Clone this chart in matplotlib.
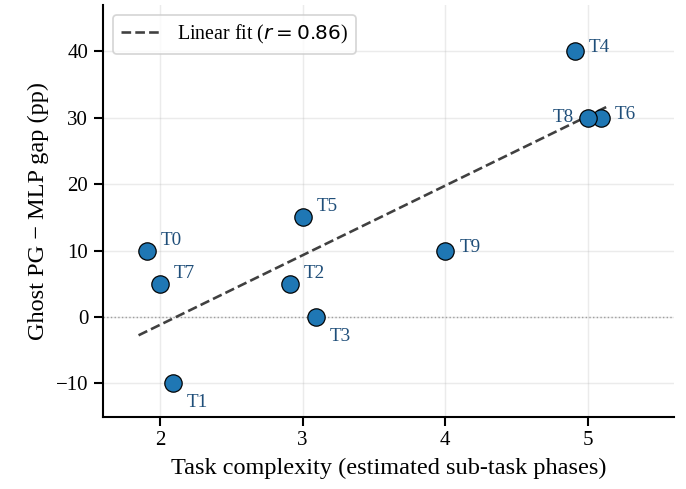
import numpy as np
import matplotlib
matplotlib.use("Agg")
import matplotlib.pyplot as plt

plt.rcParams["font.family"] = ["Liberation Serif", "DejaVu Sans"]
plt.rcParams["mathtext.fontset"] = "dejavusans"

tasks = ["T0", "T1", "T2", "T3", "T4", "T5", "T6", "T7", "T8", "T9"]
complexity = [2, 2, 3, 3, 5, 3, 5, 2, 5, 4]
gap_pp = [10, -10, 5, 0, 40, 15, 30, 5, 30, 10]
jitter = [-0.09, 0.09, -0.09, 0.09, -0.09, 0.0, 0.09, 0.0, 0.0, 0.0]

# label offsets in points (dx, dy) and horizontal alignment
label_offsets = {
    "T0": (8, 6, "left"), "T1": (8, -11, "left"), "T2": (8, 6, "left"),
    "T3": (8, -11, "left"), "T4": (8, 2, "left"), "T5": (8, 6, "left"),
    "T6": (8, 2, "left"), "T7": (8, 6, "left"), "T8": (-8, 0, "right"),
    "T9": (8, 2, "left"),
}

x = np.array(complexity, dtype=float)
y = np.array(gap_pp, dtype=float)
xj = x + np.array(jitter)

slope, intercept = np.polyfit(x, y, 1)
r = np.corrcoef(x, y)[0, 1]

fig, ax = plt.subplots(figsize=(5.488, 3.912), dpi=125)
fig.subplots_adjust(left=0.150, right=0.982, bottom=0.148, top=0.990)

ax.axhline(0, color="gray", linestyle=":", linewidth=0.8, alpha=0.8, zorder=1)
xs = np.linspace(x.min() - 0.15, x.max() + 0.15, 50)
ax.plot(xs, slope * xs + intercept, "--", color="#404040", linewidth=1.5,
        label=f"Linear fit ($r = {r:.2f}$)", zorder=2)
ax.scatter(xj, y, s=100, color="#1f77b4", edgecolor="black", linewidth=0.7, zorder=3)

for t, xi, yi in zip(tasks, xj, y):
    dx, dy, ha = label_offsets[t]
    ax.annotate(t, (xi, yi), xytext=(dx, dy), textcoords="offset points",
                ha=ha, va="center", fontsize=11, color="#1f4e79")

ax.set_xlim(1.6, 5.6)
ax.set_ylim(-15, 47)
ax.set_xticks([2, 3, 4, 5])
ax.set_yticks([-10, 0, 10, 20, 30, 40])
ax.set_xlabel("Task complexity (estimated sub-task phases)", fontsize=14)
ax.set_ylabel("Ghost PG \u2212 MLP gap (pp)", fontsize=14)
ax.tick_params(labelsize=12, length=5, width=1.2)
ax.grid(True, alpha=0.25)
ax.spines["top"].set_visible(False)
ax.spines["right"].set_visible(False)
ax.spines["left"].set_linewidth(1.2)
ax.spines["bottom"].set_linewidth(1.2)
ax.legend(loc="upper left", fontsize=11.5)

plt.savefig("out.png", dpi=125)
